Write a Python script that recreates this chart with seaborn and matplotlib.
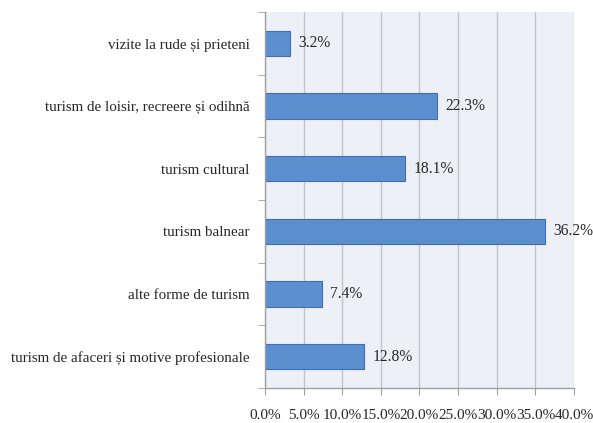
import matplotlib
matplotlib.use("Agg")
import matplotlib.pyplot as plt
import seaborn as sns
import pandas as pd
import numpy as np

categories = [
    "vizite la rude și prieteni",
    "turism de loisir, recreere și odihnă",
    "turism cultural",
    "turism balnear",
    "alte forme de turism",
    "turism de afaceri și motive profesionale",
]
values = [3.2, 22.3, 18.1, 36.2, 7.4, 12.8]
xticks = [0, 5, 10, 15, 20, 25, 30, 35, 40]

sns.set_style("white")
plt.rcParams['font.family'] = ['Liberation Serif', 'DejaVu Serif']

df = pd.DataFrame({"cat": categories, "val": values})

fig = plt.figure(figsize=(5.93, 4.23), dpi=100)
ax = fig.add_axes([265/593, 1-388/423, (574-265)/593, (388-12)/423])
ax.set_facecolor("#eef0f7")

sns.barplot(data=df, x="val", y="cat", orient="h", color="#5b8fd0",
            edgecolor="#3f6fae", linewidth=0.8, width=0.4, saturation=1, ax=ax)

txt = "#262626"
ax.set_xlim(0, 40)
ax.set_ylim(len(categories) - 0.5, -0.5)
ax.set_xticks(xticks)
ax.set_xticklabels([f"{t:.1f}%" for t in xticks], fontsize=11, color=txt)
ax.xaxis.grid(True, color="#c4c4c8", linewidth=1)
ax.set_axisbelow(True)

ax.set_yticks(range(len(categories)))
ax.set_yticklabels(categories, fontsize=10.8, color=txt)
ax.tick_params(axis="y", which="major", length=0, pad=11)
ax.set_yticks(np.arange(-0.5, len(categories), 1), minor=True)
ax.tick_params(axis="y", which="minor", length=5, color="#a0a0a0", direction="out", left=True)
ax.tick_params(axis="x", which="major", length=5, color="#a0a0a0", direction="out", bottom=True, pad=10)

for s in ["top", "right"]:
    ax.spines[s].set_visible(False)
for s in ["left", "bottom"]:
    ax.spines[s].set_color("#a0a0a0")
    ax.spines[s].set_linewidth(1)

ax.bar_label(ax.containers[0], labels=[f"{v:.1f}%" for v in values],
             padding=6, fontsize=11.2, color=txt)
ax.set_xlabel("")
ax.set_ylabel("")

fig.savefig("out.png", dpi=100, facecolor="white")
